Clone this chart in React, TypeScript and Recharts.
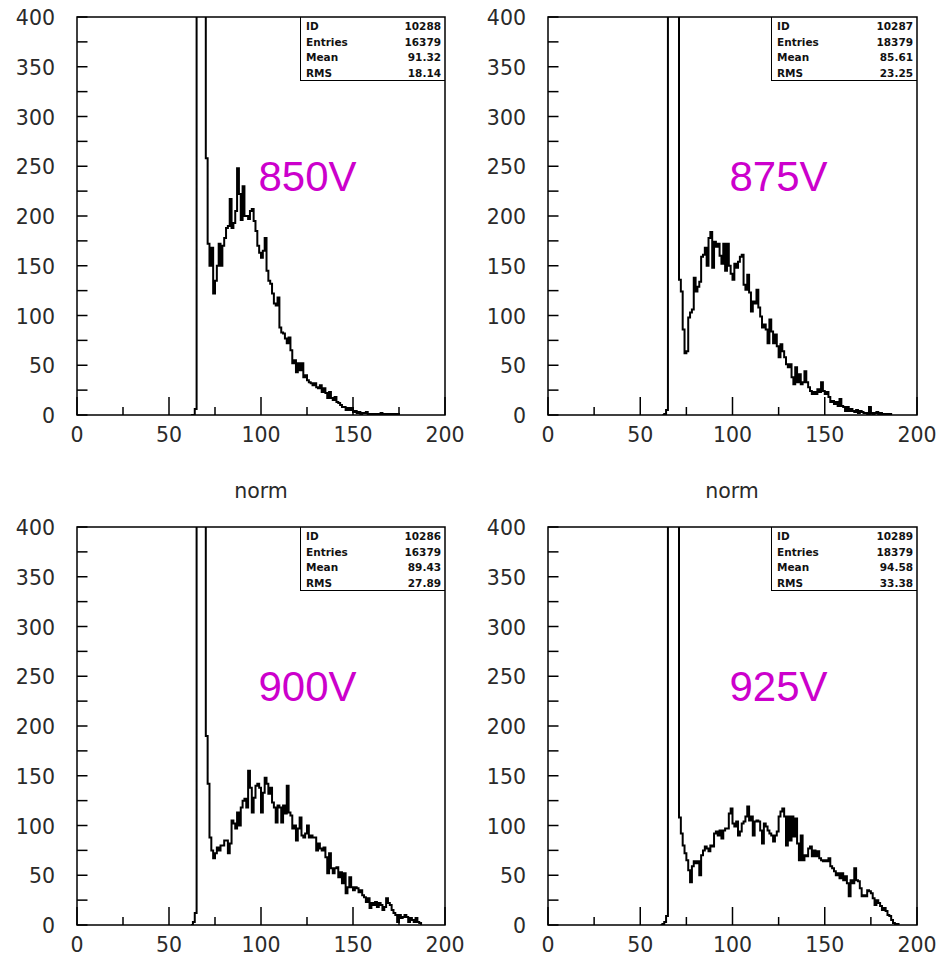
import React from 'react';
import { LineChart, Line, XAxis, YAxis, ReferenceArea } from 'recharts';

// histogram "norm" at four PMT voltages, 1-unit bins, counts start at the given bin
const voltages = ['850V', '875V', '900V', '925V'];

const start850 = 62;
const counts850 = [
  0, 0, 6, 900, 2400, 2300, 1300, 600, 258, 172, 150, 168, 122, 135, 150, 172, 150, 170,
  178, 188, 190, 217, 188, 193, 205, 248, 222, 196, 230, 200, 200, 197, 205, 207, 195, 185,
  170, 163, 158, 165, 178, 145, 135, 132, 122, 112, 110, 118, 88, 83, 82, 77, 72, 78, 65,
  52, 55, 43, 52, 45, 52, 38, 40, 35, 33, 32, 30, 32, 28, 27, 30, 23, 27, 22, 17, 23, 17,
  15, 18, 13, 12, 10, 8, 8, 5, 7, 5, 7, 3, 4, 2, 3, 1, 2, 2, 3, 1, 1, 1, 0, 1, 1, 0, 2,
  1, 1, 0, 1, 1, 0, 1, 0, 1,
];

const start875 = 62;
const counts875 = [
  0, 1, 5, 800, 2100, 2500, 1700, 900, 450, 136, 124, 86, 62, 64, 98, 103, 106, 138, 124,
  129, 134, 159, 161, 168, 150, 178, 184, 148, 174, 169, 172, 160, 152, 172, 145, 172, 150,
  142, 136, 152, 148, 154, 159, 161, 131, 126, 141, 123, 104, 114, 112, 126, 108, 99, 88,
  91, 86, 72, 96, 84, 72, 81, 69, 58, 71, 64, 58, 51, 48, 51, 38, 31, 48, 33, 41, 31, 33,
  44, 33, 28, 24, 21, 23, 21, 26, 23, 33, 24, 21, 23, 18, 13, 14, 11, 13, 9, 16, 9, 8, 4,
  8, 4, 6, 4, 3, 5, 2, 4, 3, 2, 2, 1, 8, 2, 1, 2, 3, 1, 2, 1, 0, 1, 0, 1,
];

const start900 = 62;
const counts900 = [
  0, 3, 12, 1000, 2300, 2200, 1200, 650, 190, 142, 88, 75, 67, 72, 78, 75, 80, 80, 85, 85,
  72, 82, 105, 102, 97, 113, 100, 118, 125, 127, 118, 155, 138, 113, 128, 140, 142, 138,
  113, 133, 148, 142, 132, 138, 123, 118, 103, 120, 118, 103, 120, 112, 140, 113, 110, 97,
  100, 85, 97, 108, 90, 88, 92, 100, 88, 90, 88, 88, 75, 82, 77, 75, 78, 68, 52, 72, 57,
  52, 57, 58, 48, 53, 42, 52, 32, 38, 48, 38, 35, 38, 37, 33, 35, 30, 28, 23, 27, 17, 22,
  20, 23, 18, 22, 20, 15, 18, 27, 22, 20, 15, 12, 10, 3, 10, 7, 8, 10, 8, 3, 7, 5, 3, 7,
  3, 2,
];

const start925 = 61;
const counts925 = [
  0, 1, 3, 9, 700, 1900, 2300, 1600, 950, 480, 108, 92, 80, 72, 65, 55, 43, 59, 64, 62,
  64, 50, 70, 75, 79, 77, 74, 80, 79, 92, 94, 90, 95, 87, 95, 97, 97, 112, 117, 102, 99,
  104, 90, 94, 102, 104, 109, 119, 105, 109, 90, 104, 105, 104, 95, 82, 102, 99, 95, 92,
  90, 84, 90, 94, 109, 114, 117, 109, 80, 109, 85, 109, 89, 107, 82, 65, 90, 65, 70, 69,
  77, 79, 69, 75, 69, 74, 67, 65, 64, 65, 64, 67, 59, 57, 54, 50, 52, 47, 52, 45, 49, 42,
  29, 45, 42, 57, 45, 44, 37, 29, 30, 29, 35, 34, 32, 27, 20, 25, 22, 19, 15, 17, 14, 10,
  9, 5, 2, 1, 1,
];

// stats box contents: ID, Entries, Mean, RMS
const histIds = ['10288', '10287', '10286', '10289'];
const entries = ['16379', '18379', '16379', '18379'];
const means = ['91.32', '85.61', '89.43', '94.58'];
const rmsValues = ['18.14', '23.25', '27.89', '33.38'];

const xTicks = [0, 25, 50, 75, 100, 125, 150, 175, 200];
const yTicks = [0, 25, 50, 75, 100, 125, 150, 175, 200, 225, 250, 275, 300, 325, 350, 375, 400];

const AXIS_FONT = '"DejaVu Sans", sans-serif';

// bin counts -> step points (lower bin edge), closed at the upper edge
const toSteps = (first: number, counts: number[]) => {
  const pts = counts.map((c, i) => ({ x: first + i, y: c }));
  pts.push({ x: first + counts.length, y: 0 });
  return pts;
};

const hists = [
  toSteps(start850, counts850),
  toSteps(start875, counts875),
  toSteps(start900, counts900),
  toSteps(start925, counts925),
];

// ticks point inward, as in HIGZ frames
const XTick = (props: any) => {
  const { x, y, payload } = props;
  const v = payload.value;
  const major = v % 50 === 0;
  return (
    <g>
      <line x1={x} y1={y} x2={x} y2={y - (major ? 18 : 8)} stroke="#000" strokeWidth={1.5} />
      {major && (
        <text x={x} y={y + 26.5} textAnchor="middle" fontFamily={AXIS_FONT} fontSize={20.5} fill="#2a2a2a">
          {v}
        </text>
      )}
    </g>
  );
};

const YTick = (props: any) => {
  const { x, y, payload } = props;
  const v = payload.value;
  return (
    <g>
      <line x1={x} y1={y} x2={x + 10.5} y2={y} stroke="#000" strokeWidth={1.5} />
      {v % 50 === 0 && (
        <text x={x - 22} y={y + 8} textAnchor="end" fontFamily={AXIS_FONT} fontSize={20.5} fill="#2a2a2a">
          {v}
        </text>
      )}
    </g>
  );
};

const Panel = ({ idx, left, top }: { idx: number; left: number; top: number }) => {
  const chartW = 470;
  const rightMargin = idx % 2 === 0 ? 25 : 24;
  const plotRight = left + chartW - rightMargin;
  const plotLeft = left + 77;
  const plotTop = top + 17;
  const boxLeft = plotRight - (idx % 2 === 0 ? 145 : 146);
  const rows = [
    ['ID', histIds[idx]],
    ['Entries', entries[idx]],
    ['Mean', means[idx]],
    ['RMS', rmsValues[idx]],
  ];
  return (
    <>
      <div style={{ position: 'absolute', left, top }}>
        <LineChart width={chartW} height={447} data={hists[idx]} margin={{ top: 17, right: rightMargin, left: 0, bottom: 0 }}>
          <XAxis
            type="number"
            dataKey="x"
            domain={[0, 200]}
            ticks={xTicks}
            interval={0}
            height={32}
            axisLine={false}
            tickLine={false}
            tickSize={0}
            tickMargin={0}
            tick={<XTick />}
          />
          <YAxis
            type="number"
            domain={[0, 400]}
            ticks={yTicks}
            interval={0}
            allowDataOverflow
            width={77}
            axisLine={false}
            tickLine={false}
            tickSize={0}
            tickMargin={0}
            tick={<YTick />}
          />
          <ReferenceArea x1={0} x2={200} y1={0} y2={400} fill="none" stroke="#000" strokeWidth={1.5} />
          <Line
            type="stepAfter"
            dataKey="y"
            stroke="#000"
            strokeWidth={2}
            dot={false}
            activeDot={false}
            isAnimationActive={false}
          />
        </LineChart>
      </div>
      <div
        style={{
          position: 'absolute',
          left: boxLeft,
          top: plotTop,
          width: plotRight - boxLeft,
          height: 64,
          boxSizing: 'border-box',
          borderLeft: '1.5px solid #000',
          borderBottom: '1.5px solid #000',
          paddingTop: 2,
          fontFamily: AXIS_FONT,
          fontWeight: 'bold',
          fontSize: 10.5,
          lineHeight: '15.5px',
          color: '#111',
        }}
      >
        {rows.map(([k, v]) => (
          <div key={k} style={{ display: 'flex', justifyContent: 'space-between', padding: '0 4px 0 5px' }}>
            <span>{k}</span>
            <span>{v}</span>
          </div>
        ))}
      </div>
      <div
        style={{
          position: 'absolute',
          left: plotLeft + 230.5 - 100,
          top: plotTop + 136,
          width: 200,
          textAlign: 'center',
          fontFamily: '"Liberation Sans", Arial, sans-serif',
          fontSize: 42,
          lineHeight: '48px',
          color: '#cc00cc',
        }}
      >
        {voltages[idx]}
      </div>
    </>
  );
};

export default function App() {
  return (
    <div style={{ position: 'absolute', left: 0, top: 0, width: 947, height: 957, background: '#fff', overflow: 'hidden' }}>
      <Panel idx={0} left={0} top={0} />
      <Panel idx={1} left={471} top={0} />
      <Panel idx={2} left={0} top={510} />
      <Panel idx={3} left={471} top={510} />
      {[261, 732].map((cx) => (
        <div
          key={cx}
          style={{
            position: 'absolute',
            left: cx - 50,
            top: 478,
            width: 100,
            textAlign: 'center',
            fontFamily: AXIS_FONT,
            fontSize: 20.5,
            lineHeight: '26px',
            color: '#2a2a2a',
          }}
        >
          norm
        </div>
      ))}
    </div>
  );
}
